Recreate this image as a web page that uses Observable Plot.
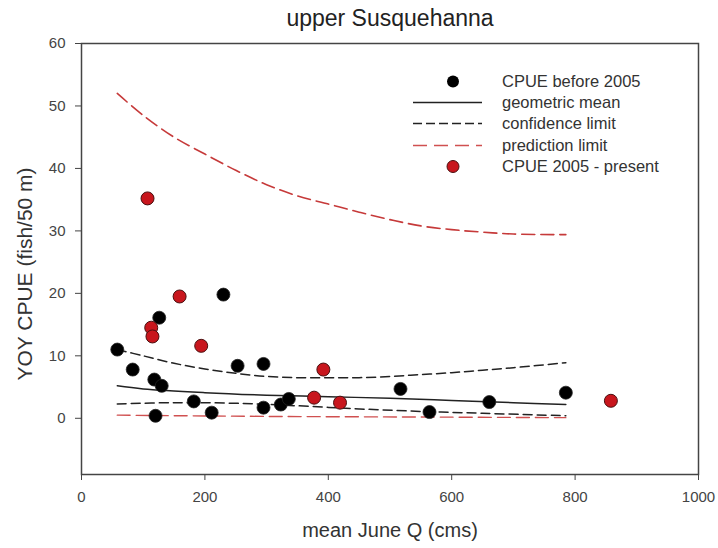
<!DOCTYPE html>
<html>
<head>
<meta charset="utf-8">
<script src="https://cdn.jsdelivr.net/npm/d3@7"></script>
<script src="https://cdn.jsdelivr.net/npm/@observablehq/plot@0.6"></script>
<style>
  html, body { margin: 0; padding: 0; background: #fff; }
  #wrap { position: relative; width: 718px; height: 548px; font-family: "Liberation Sans", Arial, sans-serif; }
  #legend { position: absolute; left: 405px; top: 71px; font-size: 16.5px; color: #333; }
  .row { position: relative; height: 21.2px; line-height: 21.2px; }
  .row svg { position: absolute; left: 0; top: 0; }
  .row span { position: absolute; left: 97px; white-space: nowrap; }
</style>
</head>
<body>
<div id="wrap"></div>
<script>
// CPUE before 2005 (black)
const beforeQ    = [58, 83, 118, 130, 126, 120, 182, 211, 230, 253, 295, 295, 323, 336, 517, 564, 661, 785];
const beforeCPUE = [11.0, 7.8, 6.2, 5.2, 16.1, 0.4, 2.7, 0.9, 19.8, 8.4, 8.7, 1.7, 2.2, 3.1, 4.7, 1.0, 2.6, 4.1];
// CPUE 2005 - present (red)
const afterQ     = [107, 159, 113, 115, 194, 392, 377, 419, 858];
const afterCPUE  = [35.2, 19.5, 14.5, 13.1, 11.6, 7.8, 3.3, 2.5, 2.8];

// geometric mean
const geoQ = [58, 100, 200, 300, 400, 500, 600, 700, 785];
const geoY = [5.2, 4.7, 4.1, 3.7, 3.45, 3.2, 2.85, 2.5, 2.2];
// confidence limits
const ciUpQ = [58, 100, 150, 200, 250, 300, 350, 400, 450, 500, 550, 600, 650, 700, 785];
const ciUpY = [11.0, 10.0, 8.8, 7.9, 7.2, 6.7, 6.5, 6.5, 6.5, 6.7, 7.0, 7.3, 7.7, 8.1, 8.9];
const ciLoQ = [58, 150, 250, 350, 450, 550, 650, 785];
const ciLoY = [2.3, 2.5, 2.4, 2.0, 1.5, 1.1, 0.8, 0.4];
// prediction limits
const piUpQ = [58, 100, 150, 200, 250, 300, 350, 400, 450, 500, 550, 600, 650, 700, 785];
const piUpY = [52.0, 48.5, 45.0, 42.3, 39.7, 37.4, 35.6, 34.3, 33.0, 31.8, 30.8, 30.2, 29.8, 29.5, 29.4];
const piLoQ = [58, 300, 550, 785];
const piLoY = [0.5, 0.3, 0.2, 0.1];

const xTicks = [0, 200, 400, 600, 800, 1000];
const yTicks = [0, 10, 20, 30, 40, 50, 60];

const titleText = "upper Susquehanna";
const xLabel = "mean June Q (cms)";
const yLabel = "YOY CPUE (fish/50 m)";
const legendItems = ["CPUE before 2005", "geometric mean", "confidence limit", "prediction limit", "CPUE 2005 - present"];

const toPts = (xs, ys) => xs.map((x, i) => ({x, y: ys[i]}));
const before = toPts(beforeQ, beforeCPUE);
const after = toPts(afterQ, afterCPUE);

const chart = Plot.plot({
  width: 718,
  height: 548,
  marginLeft: 81,
  marginRight: 20,
  marginTop: 43,
  marginBottom: 74,
  style: { fontFamily: "Liberation Sans, Arial, sans-serif", fontSize: "15px", color: "#333", background: "#fff" },
  x: { domain: [0, 1000] },
  y: { domain: [-9, 60] },
  marks: [
    Plot.frame({ stroke: "#444", strokeWidth: 1.5 }),
    Plot.axisX({ ticks: xTicks, tickFormat: d => String(d), tickSize: 6, tickPadding: 11, fontSize: 15, stroke: "#444", fill: "#444", label: null }),
    Plot.axisY({ ticks: yTicks, tickFormat: d => String(d), tickSize: 6, tickPadding: 10, fontSize: 15, stroke: "#444", fill: "#444", label: null }),
    Plot.line(toPts(piUpQ, piUpY), { x: "x", y: "y", stroke: "#c63a3a", strokeWidth: 1.6, strokeDasharray: "13,6", curve: "catmull-rom" }),
    Plot.line(toPts(piLoQ, piLoY), { x: "x", y: "y", stroke: "#d05050", strokeWidth: 1.4, strokeDasharray: "13,6", curve: "catmull-rom" }),
    Plot.line(toPts(ciUpQ, ciUpY), { x: "x", y: "y", stroke: "#222", strokeWidth: 1.5, strokeDasharray: "9,5", curve: "catmull-rom" }),
    Plot.line(toPts(ciLoQ, ciLoY), { x: "x", y: "y", stroke: "#222", strokeWidth: 1.5, strokeDasharray: "9,5", curve: "catmull-rom" }),
    Plot.line(toPts(geoQ, geoY), { x: "x", y: "y", stroke: "#222", strokeWidth: 1.5, curve: "catmull-rom" }),
    Plot.dot(before, { x: "x", y: "y", r: 6.5, fill: "#000", stroke: "#222", strokeWidth: 0.8 }),
    Plot.dot(after, { x: "x", y: "y", r: 6.5, fill: "#c8161d", stroke: "#4a1010", strokeWidth: 1 }),
    Plot.text([titleText], { frameAnchor: "top", textAnchor: "middle", lineAnchor: "middle", dy: -25, fontSize: 23, fill: "#222" }),
    Plot.text([xLabel], { frameAnchor: "bottom", textAnchor: "middle", lineAnchor: "middle", dy: 56, fontSize: 20, fill: "#333" }),
    Plot.text([yLabel], { frameAnchor: "left", textAnchor: "middle", lineAnchor: "middle", dx: -56, dy: 15, rotate: -90, fontSize: 21, fill: "#333" })
  ]
});
const wrap = document.getElementById("wrap");
wrap.appendChild(chart);

// legend
const legend = document.createElement("div");
legend.id = "legend";
const swatch = [
  '<svg width="90" height="21"><circle cx="48" cy="10.5" r="6" fill="#000"/></svg>',
  '<svg width="90" height="21"><line x1="8" x2="77" y1="10.5" y2="10.5" stroke="#222" stroke-width="1.5"/></svg>',
  '<svg width="90" height="21"><line x1="8" x2="77" y1="10.5" y2="10.5" stroke="#222" stroke-width="1.5" stroke-dasharray="9,4"/></svg>',
  '<svg width="90" height="21"><line x1="8" x2="77" y1="10.5" y2="10.5" stroke="#d05050" stroke-width="1.5" stroke-dasharray="14,7"/></svg>',
  '<svg width="90" height="21"><circle cx="48" cy="10.5" r="6" fill="#c8161d" stroke="#4a1010" stroke-width="1"/></svg>'
];
legendItems.forEach((t, i) => {
  const row = document.createElement("div");
  row.className = "row";
  row.innerHTML = swatch[i] + "<span>" + t + "</span>";
  legend.appendChild(row);
});
wrap.appendChild(legend);
</script>
</body>
</html>
